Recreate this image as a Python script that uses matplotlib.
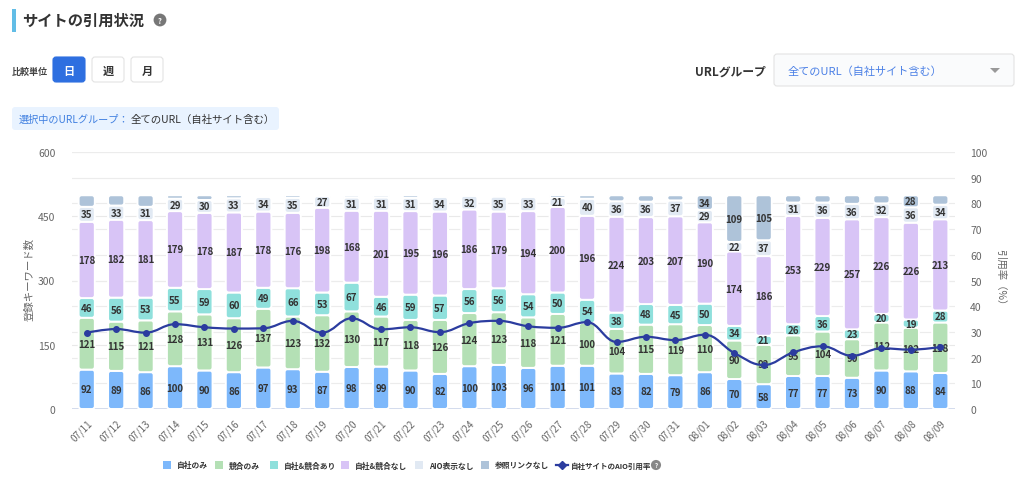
import numpy as np
import matplotlib.pyplot as plt
from matplotlib.patches import FancyBboxPatch, Rectangle, Polygon
from matplotlib.path import Path
from matplotlib.patches import PathPatch
from matplotlib.lines import Line2D

plt.rcParams['font.family'] = ['Noto Sans CJK JP', 'DejaVu Sans']

# --- data ---
dates = ["07/11", "07/12", "07/13", "07/14", "07/15", "07/16", "07/17", "07/18", "07/19", "07/20",
         "07/21", "07/22", "07/23", "07/24", "07/25", "07/26", "07/27", "07/28", "07/29", "07/30",
         "07/31", "08/01", "08/02", "08/03", "08/04", "08/05", "08/06", "08/07", "08/08", "08/09"]
own_only = [92, 89, 86, 100, 90, 86, 97, 93, 87, 98, 99, 90, 82, 100, 103, 96, 101, 101, 83, 82,
            79, 86, 70, 58, 77, 77, 73, 90, 88, 84]
comp_only = [121, 115, 121, 128, 131, 126, 137, 123, 132, 130, 117, 118, 126, 124, 123, 118, 121, 100, 104, 115,
             119, 110, 90, 92, 95, 104, 90, 112, 102, 118]
both_cited = [46, 56, 53, 55, 59, 60, 49, 66, 53, 67, 46, 59, 57, 56, 56, 54, 50, 54, 38, 48,
              45, 50, 34, 21, 26, 36, 23, 20, 19, 28]
neither = [178, 182, 181, 179, 178, 187, 178, 176, 198, 168, 201, 195, 196, 186, 179, 194, 200, 196, 224, 203,
           207, 190, 174, 186, 253, 229, 257, 226, 226, 213]
no_aio = [35, 33, 31, 29, 30, 33, 34, 35, 27, 31, 31, 31, 34, 32, 35, 33, 21, 40, 36, 36,
          37, 29, 22, 37, 31, 36, 36, 32, 36, 34]
no_ref = [27, 24, 27, 8, 11, 7, 4, 6, 2, 5, 5, 6, 4, 1, 3, 4, 6, 8, 14, 15,
          12, 34, 109, 105, 17, 17, 20, 19, 28, 22]
cite_rate = [29.7, 31.1, 29.7, 33.0, 31.8, 31.3, 31.4, 34.3, 29.7, 35.3, 31.0, 31.8, 29.9, 33.4, 34.3, 32.2,
             31.6, 33.8, 26.1, 28.1, 26.8, 28.9, 21.8, 17.1, 22.0, 24.4, 20.7, 23.6, 23.1, 24.1]

series_names = ["自社のみ", "競合のみ", "自社&競合あり", "自社&競合なし", "AIO表示なし", "参照リンクなし"]
series_vals = [own_only, comp_only, both_cited, neither, no_aio, no_ref]
colors = ["#7db8fb", "#b4e0b5", "#8fe0dc", "#d8c4f6", "#e1e9f3", "#aec3d9"]
line_color = "#2b3c9f"
left_ticks = [0, 150, 300, 450, 600]
right_ticks = list(range(0, 101, 10))

W, H = 1024, 485
fig = plt.figure(figsize=(W / 100, H / 100), dpi=100)

def fx(px):
    return px / W

def fy(py):
    return 1 - py / H

# --- chart area ---
ax_l, ax_r, ax_t, ax_b = 72, 955, 153, 410
ax = fig.add_axes([fx(ax_l), fy(ax_b), fx(ax_r - ax_l), (ax_b - ax_t) / H])
ax2 = ax.twinx()

n = len(dates)
x = np.arange(n)
ax.set_xlim(-0.5, n - 0.5)
ax.set_ylim(0, 600)
ax2.set_ylim(0, 100)

# aspect correction so rounded corners stay round
px_per_x = (ax_r - ax_l) / n
px_per_y = (ax_b - ax_t) / 600
asp = (1 / px_per_y) / (1 / px_per_x)

# grid lines behind the bars
for t in left_ticks:
    ax.axhline(t, color="#e9e9e9", lw=0.8, zorder=0)
for t in right_ticks:
    ax.axhline(t * 600 / 100, color="#ececec", lw=0.8, zorder=0)
ax.axhline(0, color="#ccd6eb", lw=1.2, zorder=1)

bw = 0.55
for i in range(n):
    bottom = 0
    for s, (vals, c) in enumerate(zip(series_vals, colors)):
        v = vals[i]
        r = min(0.1, bw / 2, v / asp / 2)
        p = FancyBboxPatch((i - bw / 2, bottom), bw, v,
                           boxstyle=f"round,pad=0,rounding_size={r}",
                           mutation_aspect=asp, fc=c, ec="white", lw=1.4, zorder=2)
        ax.add_patch(p)
        show = v >= 28 if s == 5 else True
        if show:
            ax.text(i, bottom + v / 2, str(v), ha="center", va="center",
                    fontsize=7, color="#333333", fontweight="bold", zorder=3)
        bottom += v

# spline like the original
def spline_path(xs, ys, smoothing=1.5):
    denom = smoothing + 1
    m = len(xs)
    lc = [(xs[i], ys[i]) for i in range(m)]
    rc = [(xs[i], ys[i]) for i in range(m)]
    for i in range(1, m - 1):
        px, py = xs[i], ys[i]
        lx, ly = xs[i - 1], ys[i - 1]
        nx, ny = xs[i + 1], ys[i + 1]
        lcx = (smoothing * px + lx) / denom
        lcy = (smoothing * py + ly) / denom
        rcx = (smoothing * px + nx) / denom
        rcy = (smoothing * py + ny) / denom
        if rcx != lcx:
            corr = ((rcy - lcy) * (rcx - px)) / (rcx - lcx) + py - rcy
            lcy += corr
            rcy += corr
        if lcy > ly and lcy > py:
            lcy = max(ly, py)
            rcy = 2 * py - lcy
        elif lcy < ly and lcy < py:
            lcy = min(ly, py)
            rcy = 2 * py - lcy
        if rcy > ny and rcy > py:
            rcy = max(ny, py)
            lcy = 2 * py - rcy
        elif rcy < ny and rcy < py:
            rcy = min(ny, py)
            lcy = 2 * py - rcy
        lc[i] = (lcx, lcy)
        rc[i] = (rcx, rcy)
    verts = [(xs[0], ys[0])]
    codes = [Path.MOVETO]
    for i in range(1, m):
        verts += [rc[i - 1], lc[i], (xs[i], ys[i])]
        codes += [Path.CURVE4] * 3
    return Path(verts, codes)

ax2.add_patch(PathPatch(spline_path(x, cite_rate), fc="none", ec=line_color, lw=1.6, zorder=4))
ax2.plot(x, cite_rate, "o", color=line_color, ms=4, zorder=5)

for a in (ax, ax2):
    for sp in a.spines.values():
        sp.set_visible(False)
ax.set_yticks(left_ticks)
ax2.set_yticks(right_ticks)
ax.tick_params(axis="y", length=0, pad=12, labelsize=7.5, labelcolor="#666666")
ax2.tick_params(axis="y", length=0, pad=11, labelsize=7.5, labelcolor="#666666")
ax.set_xticks(x)
ax.set_xticklabels(dates, rotation=45, ha="right", rotation_mode="anchor")
ax.tick_params(axis="x", length=0, pad=6, labelsize=7, labelcolor="#666666")

fig.text(fx(30), fy(280), "登録キーワード数", rotation=90, ha="center", va="center",
         fontsize=7.5, color="#666666")
fig.text(fx(1000), fy(280), "引用率（%）", rotation=270, ha="center", va="center",
         fontsize=7.5, color="#666666")

# --- header ---
fig.patches.append(Rectangle((fx(12), fy(33)), fx(4), 23 / H, transform=fig.transFigure,
                             fc="#62bde6", ec="none"))
fig.text(fx(22), fy(21), "サイトの引用状況", ha="left", va="center", fontsize=11,
         fontweight="bold", color="#333333")
fig.text(fx(160), fy(21), "?", ha="center", va="center", fontsize=5.5, color="white",
         fontweight="bold", bbox=dict(boxstyle="circle,pad=0.25", fc="#777777", ec="none"))

fig.text(fx(12), fy(72), "比較単位", ha="left", va="center", fontsize=6.5,
         fontweight="bold", color="#444444")
fasp = (1 / H) / (1 / W)
for label, x0, active in [("日", 53, True), ("週", 92, False), ("月", 131, False)]:
    fig.patches.append(FancyBboxPatch((fx(x0), fy(83)), fx(32), 25 / H,
                                      boxstyle="round,pad=0,rounding_size=0.003",
                                      mutation_aspect=fasp, transform=fig.transFigure,
                                      fc="#2e6fe0" if active else "white",
                                      ec="#2e6fe0" if active else "#e3e3e3", lw=0.8))
    fig.text(fx(x0 + 16), fy(71), label, ha="center", va="center", fontsize=8,
             fontweight="bold", color="white" if active else "#333333")

fig.text(fx(766), fy(72), "URLグループ", ha="right", va="center", fontsize=8.5,
         fontweight="bold", color="#333333")
fig.patches.append(FancyBboxPatch((fx(774), fy(87)), fx(240), 32 / H,
                                  boxstyle="round,pad=0,rounding_size=0.003",
                                  mutation_aspect=fasp, transform=fig.transFigure,
                                  fc="#fafbfc", ec="#e3e3e3", lw=0.8))
fig.text(fx(788), fy(72), "全てのURL（自社サイト含む）", ha="left", va="center", fontsize=8,
         color="#4b80e6")
fig.patches.append(Polygon([(fx(990), fy(69)), (fx(1000), fy(69)), (fx(995), fy(74))],
                           closed=True, transform=fig.transFigure, fc="#999999", ec="none"))

fig.patches.append(FancyBboxPatch((fx(12), fy(131)), fx(267), 23 / H,
                                  boxstyle="round,pad=0,rounding_size=0.003",
                                  mutation_aspect=fasp, transform=fig.transFigure,
                                  fc="#e9f3ff", ec="none"))
fig.text(fx(19), fy(120), "選択中のURLグループ：", ha="left", va="center", fontsize=7.3,
         color="#3f7fe0")
fig.text(fx(131), fy(120), "全てのURL（自社サイト含む）", ha="left", va="center", fontsize=7.5,
         color="#333333")

# --- legend ---
leg_y = 466
sq_x = [167, 219, 274, 345, 419, 485]
for name, c, sx in zip(series_names, colors, sq_x):
    fig.patches.append(Rectangle((fx(sx - 4), fy(leg_y + 4)), fx(8), 8 / H,
                                 transform=fig.transFigure, fc=c, ec="none"))
    fig.text(fx(sx + 10), fy(leg_y), name, ha="left", va="center", fontsize=5.6,
             fontweight="bold", color="#333333")
fig.lines.append(Line2D([fx(556), fx(568)], [fy(leg_y), fy(leg_y)], transform=fig.transFigure,
                        color=line_color, lw=1.6))
fig.lines.append(Line2D([fx(562)], [fy(leg_y)], transform=fig.transFigure,
                        color=line_color, marker="D", ms=4, lw=0))
fig.text(fx(571), fy(leg_y), "自社サイトのAIO引用率", ha="left", va="center", fontsize=5.4,
         fontweight="bold", color="#333333")
fig.text(fx(656), fy(leg_y), "?", ha="center", va="center", fontsize=4.5, color="white",
         fontweight="bold", bbox=dict(boxstyle="circle,pad=0.25", fc="#888888", ec="none"))

fig.savefig("out.png", dpi=100)
